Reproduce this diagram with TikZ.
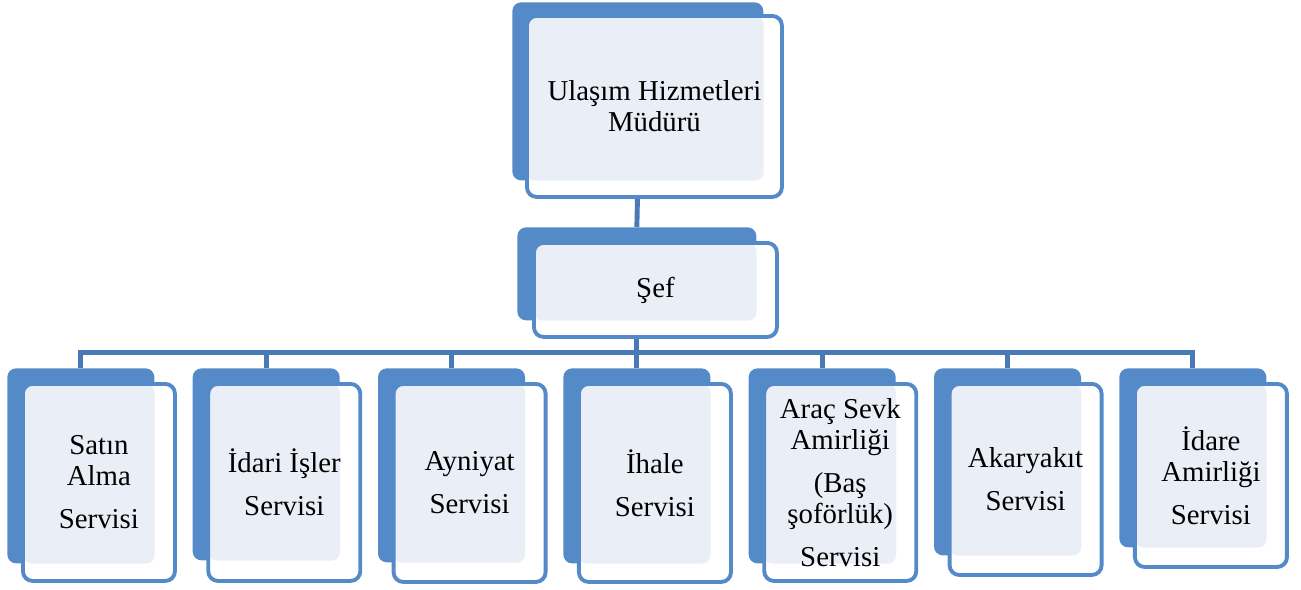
\documentclass[tikz,border=0pt]{standalone}
\usepackage{fontspec}
\setmainfont{Liberation Serif}
\definecolor{boxblue}{RGB}{85,138,201}
\definecolor{linkblue}{RGB}{74,122,181}
\definecolor{lightfill}{RGB}{234,239,247}
\tikzset{
    backbox/.style={fill=boxblue, rounded corners=5pt, inner sep=0pt, anchor=north west},
    frontbox/.style={draw=boxblue, line width=2.2pt, fill=white, rounded corners=5.5pt,
        inner sep=0pt, anchor=north west, align=center,
        font=\fontsize{16.4}{17.5}\selectfont,
        path picture={\fill[lightfill, rounded corners=5pt]
            (path picture bounding box.north west) rectangle (#1.south east);}},
    link/.style={draw=linkblue, line width=2.8pt}
}

\begin{document}
\begin{tikzpicture}[x=0.02cm, y=-0.02cm]
    \useasboundingbox (0,0) rectangle (1301,589);
    % back boxes
    \node [backbox, minimum width=251*0.02cm, minimum height=178*0.02cm] (mudurback) at (512,2) {};
    \node [backbox, minimum width=239*0.02cm, minimum height=93*0.02cm] (sefback) at (517,227) {};
    \foreach \i/\bb in {0/563,1/560,2/562,3/563,4/563,5/555,6/547}
        \node [backbox, minimum width=147*0.02cm, minimum height={(\bb-368)*0.02cm}] (back\i) at ({7+185.33*\i},368) {};
    % connectors
    \path (sefback.south) ++(0,32) coordinate (bus);
    \draw [link] (mudurback.south) -- (sefback.north);
    \draw [link] (sefback.south) -- (bus);
    \foreach \i in {0,...,6}
        \draw [link] (bus) -| (back\i.north);
    % front boxes
    \node [frontbox=mudurback, minimum width=255*0.02cm, minimum height=181*0.02cm] (mudur) at (525,14) {Ulaşım Hizmetleri\\Müdürü};
    \node [frontbox=sefback, minimum width=243*0.02cm, minimum height=94*0.02cm] (sef) at (532,241) {Şef};
    \foreach \i/\fb/\txt in {0/581/{Satın\\Alma\\[7pt]Servisi},
                             1/581/{İdari İşler\\[7pt]Servisi},
                             2/582/{Ayniyat\\[7pt]Servisi},
                             3/582/{İhale\\[7pt]Servisi},
                             4/581/{Araç Sevk\\Amirliği\\[7pt](Baş\\şoförlük)\\[7pt]Servisi},
                             5/575/{Akaryakıt\\[7pt]Servisi},
                             6/567/{İdare\\Amirliği\\[7pt]Servisi}}
        \node [frontbox=back\i, minimum width=152*0.02cm, minimum height={(\fb-384)*0.02cm}] (serv\i) at ({21+185.33*\i},382) {\txt};
\end{tikzpicture}
\end{document}
